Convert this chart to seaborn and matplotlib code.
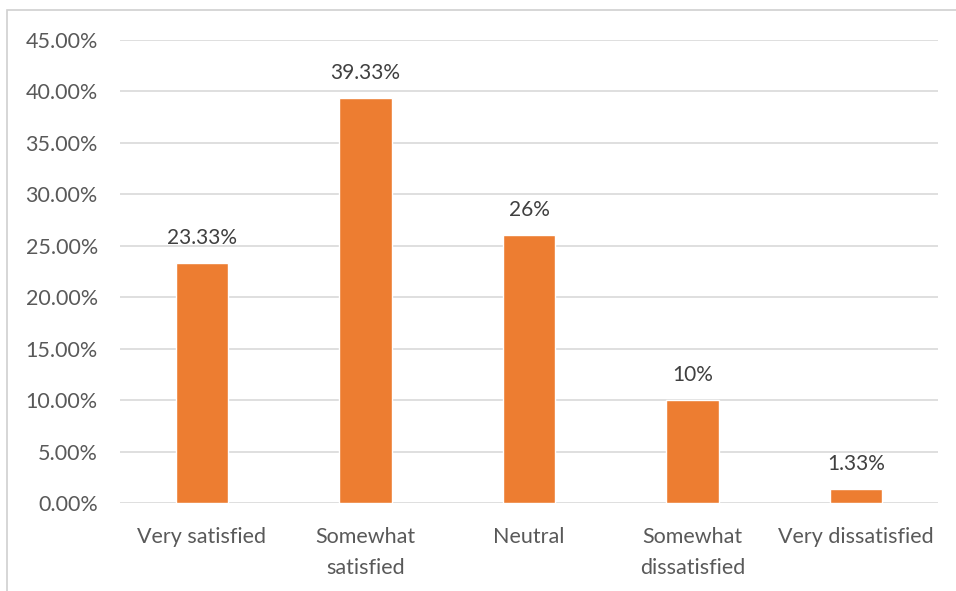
import matplotlib
matplotlib.use("Agg")
import matplotlib.pyplot as plt
import seaborn as sns
import pandas as pd
from matplotlib.patches import Rectangle
from matplotlib.ticker import FuncFormatter

categories = ["Very satisfied", "Somewhat\nsatisfied", "Neutral", "Somewhat\ndissatisfied", "Very dissatisfied"]
values = [23.33, 39.33, 26.0, 10.0, 1.33]
value_labels = ["23.33%", "39.33%", "26%", "10%", "1.33%"]
y_ticks = [0, 5, 10, 15, 20, 25, 30, 35, 40, 45]

sns.set_theme(style="white")
plt.rcParams["font.family"] = ["Lato", "DejaVu Sans"]

df = pd.DataFrame({"category": categories, "value": values})

fig = plt.figure(figsize=(9.56, 5.91), dpi=100)
ax = fig.add_axes([120 / 956, 1 - 503 / 591, 818 / 956, 463 / 591])

# outer chart frame (left and top edges visible)
fig.patches.append(Rectangle((7 / 956, -0.1), 1.2, 1 - 10 / 591 + 0.1,
                             transform=fig.transFigure, fill=False,
                             edgecolor="#D0D0D0", linewidth=1.2, zorder=0))

sns.barplot(data=df, x="category", y="value", color="#ED7D31", width=0.32,
            saturation=1, ax=ax, zorder=3)

ax.set_ylim(0, 45)
ax.set_yticks(y_ticks)
ax.yaxis.set_major_formatter(FuncFormatter(lambda v, _: f"{v:.2f}%"))
ax.grid(axis="y", color="#D9D9D9", linewidth=1.2, zorder=0)
ax.set_axisbelow(True)
for s in ax.spines.values():
    s.set_visible(False)
ax.set_xlabel("")
ax.set_ylabel("")
ax.tick_params(axis="y", length=0, pad=16, labelsize=15.5, labelcolor="#595959")
ax.tick_params(axis="x", length=0, pad=17, labelsize=15.5, labelcolor="#595959")
for t in ax.get_xticklabels():
    t.set_linespacing(1.7)

for patch, lab in zip(ax.patches, value_labels):
    ax.annotate(lab, (patch.get_x() + patch.get_width() / 2, patch.get_height()),
                xytext=(0, 11), textcoords="offset points", ha="center", va="bottom",
                fontsize=15, color="#404040")

fig.savefig("out.png", dpi=100, facecolor="white")
